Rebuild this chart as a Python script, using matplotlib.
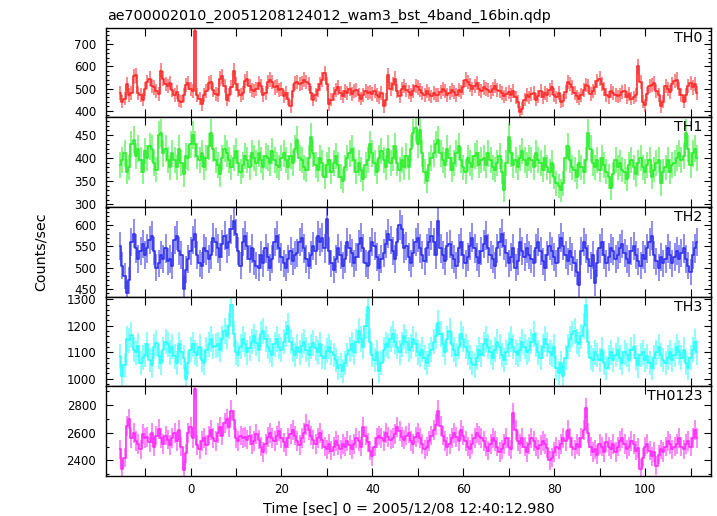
import numpy as np
import matplotlib
matplotlib.use('Agg')
import matplotlib.pyplot as plt
from matplotlib.ticker import MultipleLocator

# light curves, 0.5 s bins, first bin centred at -15.5 s
BIN = 0.5
T_START = -15.5

th0 = [
    480, 440, 455, 520, 470, 480, 555, 560, 480, 470, 450, 500, 530, 545, 510, 505, 490, 475, 580, 545,
    520, 510, 525, 495, 470, 485, 445, 440, 470, 515, 525, 500, 490, 760, 470, 455, 430, 470, 490, 525,
    530, 495, 475, 470, 545, 555, 510, 450, 470, 505, 580, 520, 495, 470, 480, 535, 545, 510, 495, 490,
    500, 525, 510, 470, 480, 530, 540, 530, 505, 510, 495, 500, 465, 480, 455, 420, 490, 525, 530, 520,
    525, 540, 530, 520, 480, 450, 470, 495, 520, 540, 570, 520, 430, 450, 475, 495, 505, 480, 465, 490,
    480, 500, 475, 490, 495, 470, 455, 470, 490, 480, 485, 475, 490, 470, 460, 480, 420, 450, 560, 500,
    520, 545, 490, 465, 500, 510, 495, 485, 470, 490, 510, 505, 495, 480, 470, 490, 475, 465, 480, 470,
    470, 485, 500, 490, 470, 480, 495, 485, 470, 495, 485, 505, 540, 530, 515, 500, 510, 525, 500, 490,
    505, 500, 495, 485, 500, 510, 495, 490, 480, 465, 475, 485, 470, 490, 460, 440, 395, 410, 450, 470,
    460, 475, 480, 450, 465, 490, 460, 480, 470, 495, 505, 470, 460, 480, 440, 445, 485, 530, 520, 505,
    480, 465, 455, 470, 495, 515, 510, 475, 490, 505, 535, 545, 520, 500, 470, 460, 490, 480, 470, 465,
    470, 485, 490, 460, 475, 455, 460, 470, 600, 530, 440, 425, 475, 510, 515, 525, 490, 470, 420, 440,
    510, 500, 485, 520, 535, 540, 500, 470, 440, 470, 510, 525, 505, 520, 480,
]
th1 = [
    385, 395, 410, 370, 380, 430, 440, 405, 420, 395, 370, 415, 400, 425, 420, 390, 375, 450, 455, 410,
    420, 395, 380, 410, 395, 380, 420, 390, 365, 405, 400, 430, 450, 430, 405, 395, 410, 380, 400, 425,
    455, 420, 395, 385, 365, 400, 420, 410, 395, 380, 400, 415, 390, 370, 385, 405, 395, 380, 410, 400,
    390, 410, 395, 380, 405, 400, 390, 415, 395, 385, 380, 400, 410, 395, 380, 405, 390, 420, 440, 400,
    395, 380, 375, 400, 445, 410, 385, 375, 400, 390, 360, 385, 395, 370, 390, 405, 385, 360, 350, 380,
    400, 410, 420, 395, 370, 390, 375, 355, 385, 395, 430, 410, 390, 370, 400, 415, 395, 380, 420, 390,
    400, 425, 390, 375, 395, 380, 405, 380, 420, 455, 465, 430, 460, 410, 370, 350, 385, 400, 410, 430,
    440, 410, 395, 385, 420, 400, 375, 390, 410, 425, 395, 380, 370, 400, 390, 380, 405, 410, 385, 395,
    400, 385, 410, 395, 380, 375, 390, 405, 370, 330, 390, 445, 410, 385, 395, 380, 400, 415, 395, 385,
    400, 395, 380, 410, 395, 390, 375, 400, 380, 370, 390, 360, 345, 340, 330, 345, 400, 425, 395, 380,
    375, 360, 390, 380, 370, 395, 455, 420, 390, 380, 395, 375, 400, 385, 370, 360, 335, 365, 395, 380,
    390, 375, 370, 355, 385, 395, 380, 365, 390, 400, 380, 370, 385, 395, 360, 375, 390, 395, 345, 370,
    380, 395, 370, 385, 390, 400, 410, 395, 405, 455, 420, 385, 410, 420, 400,
]
th2 = [
    550, 505, 480, 440, 470, 560, 580, 545, 520, 540, 555, 530, 545, 565, 575, 540, 500, 510, 530, 520,
    545, 515, 520, 505, 565, 575, 540, 530, 450, 495, 520, 540, 565, 580, 530, 510, 505, 545, 540, 520,
    530, 570, 560, 545, 525, 555, 575, 545, 560, 590, 610, 580, 540, 505, 560, 575, 550, 520, 545, 515,
    505, 500, 530, 510, 545, 525, 500, 520, 560, 575, 545, 525, 510, 500, 520, 540, 515, 530, 535, 560,
    570, 545, 520, 505, 530, 550, 540, 575, 560, 570, 545, 615, 540, 510, 495, 520, 545, 530, 505, 520,
    560, 545, 535, 510, 525, 555, 570, 545, 510, 505, 540, 560, 550, 525, 500, 520, 535, 555, 580, 565,
    540, 520, 560, 600, 590, 545, 550, 525, 510, 535, 560, 570, 545, 530, 515, 545, 560, 575, 560, 530,
    610, 545, 530, 515, 550, 555, 530, 520, 505, 545, 560, 530, 510, 525, 550, 570, 545, 525, 510, 540,
    555, 575, 545, 530, 520, 505, 545, 560, 580, 550, 535, 510, 525, 545, 500, 515, 560, 540, 525, 545,
    530, 520, 510, 545, 560, 540, 515, 500, 530, 550, 540, 525, 510, 545, 570, 550, 530, 515, 540, 525,
    510, 490, 460, 540, 560, 545, 520, 505, 530, 465, 510, 545, 560, 530, 510, 525, 545, 540, 520, 530,
    545, 555, 535, 520, 510, 540, 550, 530, 515, 505, 530, 520, 545, 560, 575, 530, 515, 500, 525, 510,
    520, 545, 530, 510, 525, 540, 520, 535, 545, 520, 505, 490, 530, 545, 560,
]
th3 = [
    1085, 1010, 1050, 1150, 1145, 1165, 1110, 1100, 1125, 1060, 1080, 1090, 1130, 1070, 1050, 1120, 1135, 1085, 1060, 1110,
    1140, 1130, 1100, 1120, 1085, 1060, 1130, 1100, 1080, 1000, 1060, 1110, 1130, 1100, 1090, 1120, 1070, 1060, 1110, 1130,
    1150, 1120, 1125, 1130, 1110, 1150, 1180, 1160, 1200, 1280, 1170, 1100, 1090, 1120, 1150, 1130, 1100, 1115, 1140, 1160,
    1135, 1110, 1170, 1180, 1150, 1120, 1105, 1090, 1130, 1150, 1120, 1110, 1140, 1170, 1200, 1140, 1110, 1090, 1120, 1100,
    1125, 1140, 1110, 1090, 1120, 1135, 1115, 1100, 1130, 1085, 1080, 1105, 1120, 1100, 1090, 1070, 1040, 1050, 1030, 1060,
    1090, 1110, 1130, 1100, 1140, 1180, 1150, 1120, 1200, 1270, 1140, 1090, 1070, 1100, 1030, 1060, 1110, 1130, 1120, 1150,
    1170, 1140, 1120, 1100, 1130, 1160, 1140, 1110, 1120, 1150, 1130, 1100, 1090, 1110, 1080, 1060, 1090, 1110, 1140, 1160,
    1210, 1170, 1130, 1100, 1150, 1180, 1130, 1110, 1090, 1120, 1170, 1150, 1120, 1100, 1080, 1060, 1050, 1080, 1110, 1090,
    1130, 1150, 1120, 1100, 1080, 1110, 1140, 1120, 1090, 1070, 1100, 1130, 1150, 1120, 1100, 1090, 1110, 1140, 1120, 1100,
    1110, 1140, 1170, 1130, 1100, 1080, 1120, 1150, 1130, 1100, 1090, 1120, 1040, 1020, 1060, 1010, 1080, 1120, 1150, 1170,
    1180, 1140, 1130, 1160, 1200, 1280, 1140, 1080, 1070, 1100, 1090, 1070, 1110, 1060, 1040, 1080, 1100, 1070, 1090, 1110,
    1080, 1060, 1100, 1090, 1070, 1110, 1120, 1080, 1050, 1090, 1100, 1070, 1085, 1060, 1040, 1080, 1100, 1120, 1090, 1070,
    1060, 1080, 1100, 1070, 1090, 1120, 1100, 1080, 1110, 1060, 1040, 1080, 1110, 1140, 1100,
]
th0123 = [
    2480, 2340, 2420, 2650, 2700, 2560, 2600, 2540, 2520, 2480, 2590, 2560, 2570, 2530, 2600, 2500, 2580, 2630, 2560, 2520,
    2580, 2550, 2510, 2560, 2600, 2540, 2620, 2500, 2330, 2450, 2600, 2640, 2560, 2920, 2510, 2480, 2540, 2560, 2510, 2580,
    2620, 2560, 2540, 2600, 2640, 2580, 2670, 2700, 2640, 2760, 2690, 2560, 2540, 2580, 2560, 2570, 2550, 2580, 2520, 2540,
    2590, 2550, 2500, 2460, 2520, 2570, 2600, 2560, 2540, 2580, 2610, 2560, 2530, 2500, 2560, 2590, 2620, 2580, 2540, 2510,
    2560, 2600, 2660, 2620, 2580, 2550, 2520, 2560, 2600, 2550, 2500, 2480, 2520, 2470, 2500, 2540, 2510, 2480, 2520, 2500,
    2540, 2510, 2480, 2520, 2560, 2540, 2500, 2640, 2580, 2530, 2470, 2430, 2500, 2560, 2580, 2560, 2540, 2600, 2570, 2550,
    2560, 2590, 2640, 2610, 2570, 2550, 2580, 2600, 2540, 2520, 2570, 2600, 2560, 2520, 2480, 2500, 2540, 2580, 2620, 2660,
    2760, 2650, 2580, 2540, 2500, 2520, 2560, 2600, 2570, 2540, 2620, 2580, 2540, 2500, 2480, 2520, 2560, 2600, 2580, 2560,
    2540, 2500, 2470, 2520, 2560, 2540, 2500, 2460, 2480, 2520, 2560, 2500, 2480, 2740, 2620, 2540, 2520, 2560, 2500, 2460,
    2520, 2560, 2540, 2500, 2480, 2510, 2540, 2520, 2490, 2400, 2420, 2460, 2500, 2480, 2520, 2560, 2540, 2620, 2560, 2500,
    2480, 2520, 2500, 2560, 2620, 2780, 2600, 2500, 2460, 2480, 2440, 2520, 2500, 2460, 2530, 2500, 2480, 2520, 2460, 2500,
    2540, 2560, 2520, 2480, 2500, 2540, 2520, 2470, 2490, 2340, 2420, 2500, 2520, 2470, 2430, 2460, 2360, 2440, 2480, 2460,
    2500, 2540, 2520, 2480, 2500, 2520, 2560, 2500, 2480, 2520, 2540, 2500, 2560, 2620, 2560,
]

names = ['TH0', 'TH1', 'TH2', 'TH3', 'TH0123']
series = [th0, th1, th2, th3, th0123]
colors = ['#ff2a2a', '#2aee2a', '#3030ee', '#2affff', '#ff2aff']
ylims = [(370, 775), (294, 488), (432, 642), (971, 1310), (2286, 2937)]
ymajor = [100, 50, 50, 100, 200]
yminor = [20, 10, 10, 20, 100]

plt.rcParams['font.family'] = 'DejaVu Sans'

fig = plt.figure(figsize=(7.17, 5.16), dpi=100)
gs = fig.add_gridspec(5, 1, left=0.1478, right=0.9916, bottom=0.0775, top=0.9463, hspace=0)
axes = [fig.add_subplot(gs[i]) for i in range(5)]

for k, ax in enumerate(axes):
    rate = np.asarray(series[k], dtype=float)
    t = T_START + BIN * np.arange(rate.size)
    err = np.sqrt(rate / BIN)
    c = colors[k]
    ax.errorbar(t, rate, yerr=err, fmt='none', ecolor=c, elinewidth=1.4, alpha=0.55)
    ax.plot(t, rate, drawstyle='steps-mid', color=c, lw=1.2)

    ax.set_xlim(-18.6, 114.5)
    ax.set_ylim(*ylims[k])
    ax.xaxis.set_major_locator(MultipleLocator(20))
    ax.xaxis.set_minor_locator(MultipleLocator(10))
    ax.yaxis.set_major_locator(MultipleLocator(ymajor[k]))
    ax.yaxis.set_minor_locator(MultipleLocator(yminor[k]))
    ax.tick_params(which='both', direction='in', top=True, right=True, labelsize=8.5, width=0.8)
    ax.tick_params(axis='y', which='major', length=5, pad=7)
    ax.tick_params(axis='y', which='minor', length=2.5)
    ax.tick_params(axis='x', which='both', length=5.5, pad=5)
    if k < 4:
        ax.tick_params(axis='x', labelbottom=False)
    for s in ax.spines.values():
        s.set_linewidth(1.0)
    ax.text(0.986, 0.89, names[k], transform=ax.transAxes, ha='right', va='center', fontsize=10.3)

fig.text(107 / 717, 1 - 20 / 516, 'ae700002010_20051208124012_wam3_bst_4band_16bin.qdp',
         ha='left', va='baseline', fontsize=10.3)
axes[-1].set_xlabel('Time [sec] 0 = 2005/12/08 12:40:12.980', fontsize=10.3, labelpad=4)
fig.text(40.5 / 717, 1 - 252 / 516, 'Counts/sec', rotation=90, ha='center', va='center', fontsize=10.3)

fig.savefig('out.png', dpi=100)
